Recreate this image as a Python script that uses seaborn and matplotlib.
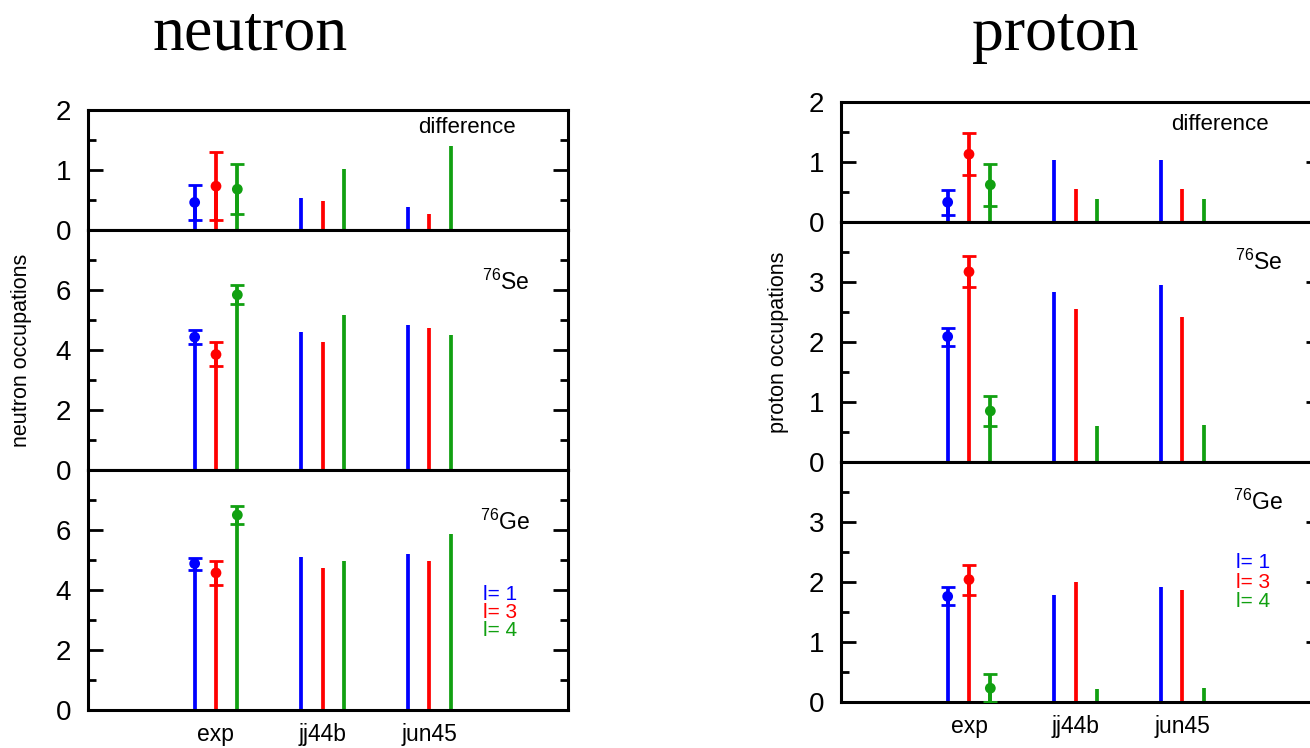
import numpy as np
import pandas as pd
import matplotlib
matplotlib.use("Agg")
import matplotlib.pyplot as plt
from matplotlib.ticker import MultipleLocator, FuncFormatter
import seaborn as sns

# ---- data ---------------------------------------------------------------
models = ["exp", "jj44b", "jun45"]
l_values = [1, 3, 4]

# rows: model (exp, jj44b, jun45); columns: l = 1, 3, 4
neutron_diff = [[0.46, 0.73, 0.68], [0.53, 0.48, 1.02], [0.38, 0.26, 1.40]]
neutron_diff_err = [0.29, 0.57, 0.42]
neutron_se = [[4.43, 3.85, 5.84], [4.61, 4.27, 5.16], [4.82, 4.74, 4.49]]
neutron_se_err = [0.22, 0.40, 0.31]
neutron_ge = [[4.88, 4.57, 6.50], [5.11, 4.75, 4.98], [5.20, 4.98, 5.87]]
neutron_ge_err = [0.20, 0.40, 0.31]

proton_diff = [[0.33, 1.13, 0.62], [1.04, 0.55, 0.39], [1.04, 0.55, 0.39]]
proton_diff_err = [0.21, 0.35, 0.35]
proton_se = [[2.09, 3.17, 0.85], [2.83, 2.55, 0.60], [2.95, 2.41, 0.62]]
proton_se_err = [0.15, 0.26, 0.25]
proton_ge = [[1.76, 2.04, 0.23], [1.78, 2.00, 0.22], [1.92, 1.87, 0.24]]
proton_ge_err = [0.15, 0.25, 0.23]

colors = ["#0000ff", "#ff0000", "#11a011"]

# ---- style --------------------------------------------------------------
sns.set_style("ticks")
plt.rcParams["font.family"] = ["Liberation Sans", "DejaVu Sans"]
plt.rcParams["mathtext.fontset"] = "custom"
plt.rcParams["mathtext.rm"] = "Liberation Sans"
plt.rcParams["mathtext.default"] = "regular"
for key in ["text.color", "axes.labelcolor", "xtick.color", "ytick.color",
            "axes.edgecolor"]:
    plt.rcParams[key] = "black"

W, H = 1310, 748
fig = plt.figure(figsize=(W / 100, H / 100), dpi=100)

group_x = np.array([1.2, 2.2, 3.2])
offsets = np.array([-0.2, 0.0, 0.2])


def frame(px_left, px_top, px_h):
    return [px_left / W, 1 - (px_top + px_h) / H, 480 / W, px_h / H]


def style_axis(ax, ymax, major, minor, hide_top_label):
    ax.set_xlim(0, 4.5)
    ax.set_ylim(0, ymax)
    for s in ax.spines.values():
        s.set_linewidth(2.2)
        s.set_visible(True)
        s.set_color("black")
    ax.yaxis.set_major_locator(MultipleLocator(major))
    ax.yaxis.set_minor_locator(MultipleLocator(minor))
    ax.tick_params(axis="y", which="major", direction="in", length=11,
                   width=2.0, left=True, right=True, labelsize=20, pad=12)
    ax.tick_params(axis="y", which="minor", direction="in", length=6,
                   width=2.0, left=True, right=True)
    ax.tick_params(axis="x", which="both", length=0, top=False, bottom=False)

    def fmt(v, pos, ymax=ymax, hide=hide_top_label):
        if hide and abs(v - ymax) < 1e-9:
            return ""
        return f"{v:g}"

    ax.yaxis.set_major_formatter(FuncFormatter(fmt))


def draw_panel(ax, values, exp_err):
    rows = []
    for mi, model in enumerate(models):
        for li, l in enumerate(l_values):
            rows.append({"model": model, "l": l,
                         "x": group_x[mi] + offsets[li],
                         "value": values[mi][li]})
    df = pd.DataFrame(rows)
    for li, l in enumerate(l_values):
        sub = df[df["l"] == l]
        ax.vlines(sub["x"], 0, sub["value"], color=colors[li], lw=2.7,
                  zorder=2)
        exp_row = sub[sub["model"] == "exp"]
        ax.errorbar(exp_row["x"], exp_row["value"], yerr=exp_err[li],
                    fmt="none", ecolor=colors[li], elinewidth=2.7,
                    capsize=5, capthick=2.0, zorder=3)
    exp_df = df[df["model"] == "exp"]
    sns.scatterplot(data=exp_df, x="x", y="value", hue="l",
                    palette=colors, s=60, edgecolor="none", legend=False,
                    ax=ax, zorder=4)
    ax.set_xlabel("")
    ax.set_ylabel("")


def build_column(px_left, px_top, panels, ylabel, info):
    axes = []
    heights = [120, 240, 240]
    top = px_top
    for k, (vals, errs, ymax, major, minor) in enumerate(panels):
        ax = fig.add_axes(frame(px_left, top, heights[k]))
        top += heights[k]
        draw_panel(ax, vals, errs)
        style_axis(ax, ymax, major, minor, hide_top_label=(k > 0))
        axes.append(ax)
    for ax in axes[:-1]:
        ax.set_xticks([])
    axes[-1].set_xticks(group_x)
    axes[-1].set_xticklabels(models, fontsize=16.5)
    axes[-1].tick_params(axis="x", pad=9)
    axes[1].set_ylabel(ylabel, fontsize=15.5)
    axes[1].yaxis.set_label_coords(info["ylabel_x"], 0.5)

    axes[0].text(0.79, info["diff_y"], "difference", transform=axes[0].transAxes,
                 ha="center", va="center", fontsize=16)
    axes[1].text(0.87, info["nuc_y"], r"$^{76}$Se", transform=axes[1].transAxes,
                 ha="center", va="center", fontsize=16.5)
    axes[2].text(0.87, info["nuc_y"], r"$^{76}$Ge", transform=axes[2].transAxes,
                 ha="center", va="center", fontsize=16.5)
    for li, l in enumerate(l_values):
        axes[2].text(0.822, info["leg_y"][li], f"l= {l}", color=colors[li],
                     transform=axes[2].transAxes, ha="left", va="center",
                     fontsize=15)
    return axes


build_column(
    88, 110,
    [(neutron_diff, neutron_diff_err, 2, 1, 0.5),
     (neutron_se, neutron_se_err, 8, 2, 1),
     (neutron_ge, neutron_ge_err, 8, 2, 1)],
    "neutron occupations",
    {"ylabel_x": -0.117, "diff_y": 0.858, "nuc_y": 0.783,
     "leg_y": [0.483, 0.408, 0.333]},
)

build_column(
    841, 102,
    [(proton_diff, proton_diff_err, 2, 1, 0.5),
     (proton_se, proton_se_err, 4, 1, 0.5),
     (proton_ge, proton_ge_err, 4, 1, 0.5)],
    "proton occupations",
    {"ylabel_x": -0.108, "diff_y": 0.81, "nuc_y": 0.833,
     "leg_y": [0.583, 0.5, 0.417]},
)

fig.text(250 / W, 1 - 50 / H, "neutron", ha="center", va="baseline",
         fontsize=46, family="Liberation Serif")
fig.text(1055 / W, 1 - 50 / H, "proton", ha="center", va="baseline",
         fontsize=46, family="Liberation Serif")

fig.savefig("out.png", dpi=100)
